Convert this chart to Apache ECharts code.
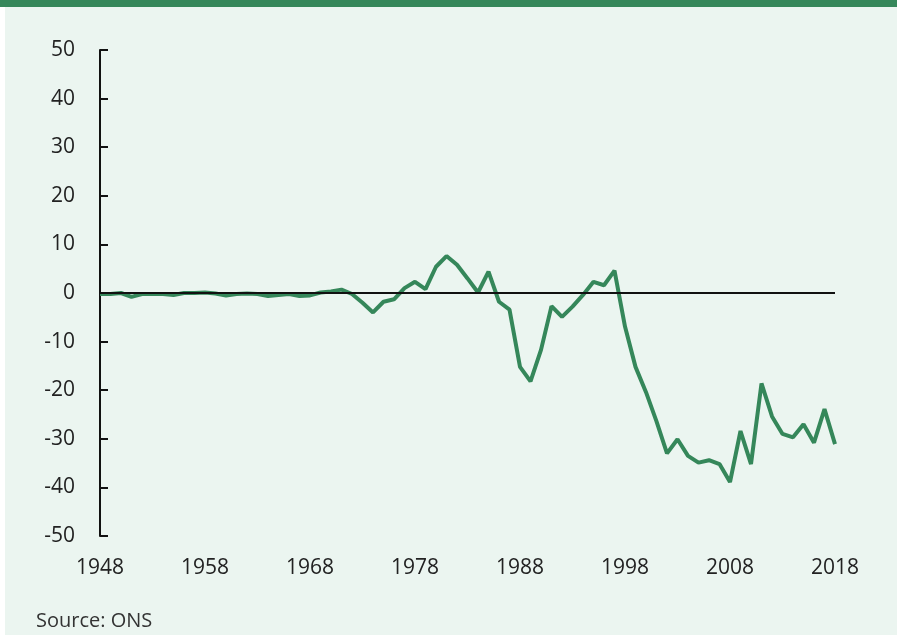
<!DOCTYPE html>
<html>
<head>
<meta charset="utf-8">
<script src="https://cdn.jsdelivr.net/npm/echarts@6/dist/echarts.min.js"></script>
<style>
  html, body { margin: 0; padding: 0; background: #fff; }
  #container { width: 897px; height: 635px; }
</style>
</head>
<body>
<div id="container"></div>
<script>
var years = [];
for (var y = 1948; y <= 2018; y++) {
    years.push(String(y));
}

// 1948 - 2018
var values = [
    -0.2, -0.2, 0.0, -0.8, -0.2, -0.2, -0.2, -0.4, 0.0, 0.0,
    0.1, -0.1, -0.5, -0.2, -0.1, -0.2, -0.6, -0.4, -0.2, -0.6,
    -0.5, 0.1, 0.3, 0.7, -0.2, -2.0, -4.0, -1.8, -1.3, 1.0,
    2.3, 0.8, 5.4, 7.6, 5.8, 3.0, 0.1, 4.4, -1.8, -3.4,
    -15.2, -18.2, -11.7, -2.7, -4.9, -2.8, -0.4, 2.3, 1.6, 4.6,
    -6.9, -15.2, -20.4, -26.4, -33.0, -30.1, -33.5, -34.9, -34.4, -35.2,
    -38.9, -28.4, -35.2, -18.6, -25.4, -29.0, -29.7, -27.0, -30.8, -23.9,
    -31.1
];

var green = '#35875a';
var fontFamily = '"Open Sans", "Noto Sans", sans-serif';

var dom = document.getElementById("container");
var myChart = echarts.init(dom);

var option = {
    backgroundColor: '#ebf5f0',
    animation: false,
    graphic: [
        { type: 'rect', left: 0, top: 0, shape: { width: 897, height: 7 }, style: { fill: green } },
        { type: 'rect', left: 0, top: 7, shape: { width: 5, height: 628 }, style: { fill: '#ffffff' } },
        {
            type: 'text', left: 36, top: 611,
            style: { text: 'Source: ONS', fill: '#333', font: '20px ' + fontFamily }
        }
    ],
    grid: {
        left: 100,
        right: 62,
        top: 50,
        bottom: 99
    },
    xAxis: {
        type: 'category',
        data: years,
        boundaryGap: false,
        axisLine: { show: false, onZero: false },
        axisTick: { show: false },
        axisLabel: {
            interval: 9,
            margin: 22,
            fontSize: 21,
            color: '#222',
            fontFamily: fontFamily
        },
        splitLine: { show: false }
    },
    yAxis: {
        type: 'value',
        min: -50,
        max: 50,
        interval: 10,
        axisLine: { show: true, lineStyle: { color: '#111', width: 2 } },
        axisTick: { show: true, inside: true, length: 8, lineStyle: { color: '#111', width: 2 } },
        axisLabel: {
            margin: 25,
            fontSize: 21,
            color: '#222',
            fontFamily: fontFamily
        },
        splitLine: { show: false }
    },
    series: [
        {
            type: 'line',
            data: values,
            symbol: 'none',
            lineStyle: { color: green, width: 4 },
            markLine: {
                silent: true,
                symbol: 'none',
                label: { show: false },
                lineStyle: { color: '#111', width: 2, type: 'solid' },
                data: [{ yAxis: 0 }]
            },
            z: 3
        }
    ]
};

myChart.setOption(option);
</script>
</body>
</html>
